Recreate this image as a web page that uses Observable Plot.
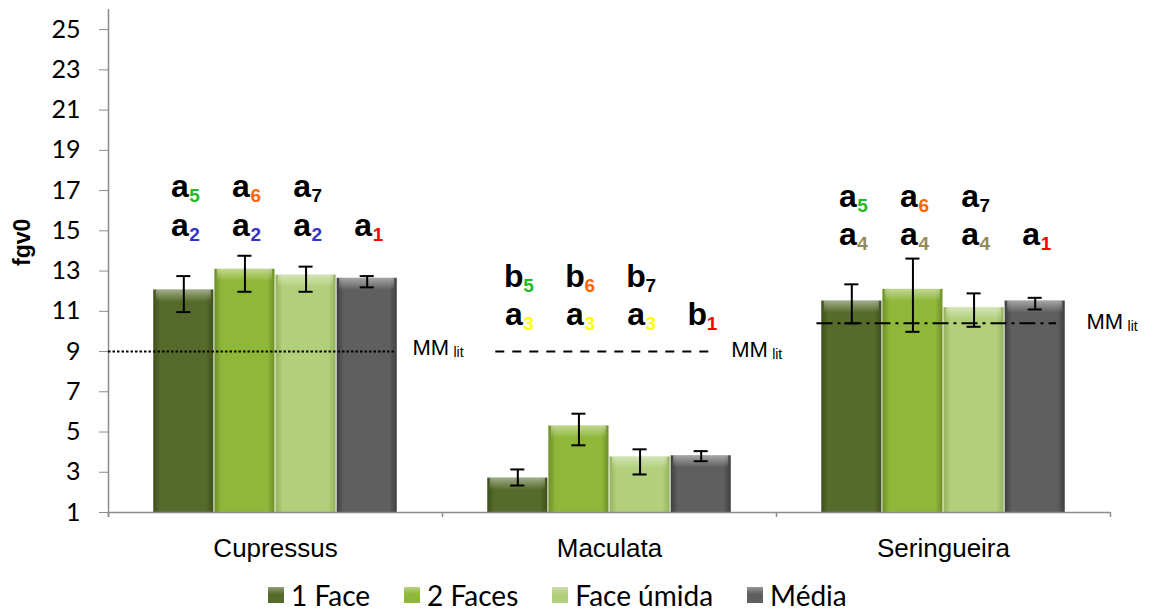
<!DOCTYPE html>
<html><head><meta charset="utf-8">
<script src="https://cdn.jsdelivr.net/npm/d3@7"></script>
<script src="https://cdn.jsdelivr.net/npm/@observablehq/plot@0.6"></script>
<style>
body{margin:0;background:#fff;}
#chart svg{display:block;overflow:visible;}
#chart g[aria-label="bar"]{filter:drop-shadow(3px 2px 2px rgba(0,0,0,0.45));}
#legend{display:flex;align-items:center;height:33px;padding-left:268px;font-family:Lato,"Open Sans",sans-serif;font-size:28px;color:#000;}
#legend .item{display:flex;align-items:center;margin-right:34px;}
#legend .sw{width:16px;height:16px;margin-right:7px;}
</style></head><body>
<svg width="0" height="0" style="position:absolute">
<defs>
<linearGradient id="grad0" x1="0" x2="1" y1="0" y2="0"><stop offset="0" stop-color="#3f4f1c"/><stop offset="0.12" stop-color="#566b2b"/><stop offset="0.88" stop-color="#566b2b"/><stop offset="1" stop-color="#3f4f1c"/></linearGradient>
<linearGradient id="grad1" x1="0" x2="1" y1="0" y2="0"><stop offset="0" stop-color="#6d8f28"/><stop offset="0.12" stop-color="#8fb83a"/><stop offset="0.88" stop-color="#8fb83a"/><stop offset="1" stop-color="#6d8f28"/></linearGradient>
<linearGradient id="grad2" x1="0" x2="1" y1="0" y2="0"><stop offset="0" stop-color="#93b35a"/><stop offset="0.12" stop-color="#b2cf7c"/><stop offset="0.88" stop-color="#b2cf7c"/><stop offset="1" stop-color="#93b35a"/></linearGradient>
<linearGradient id="grad3" x1="0" x2="1" y1="0" y2="0"><stop offset="0" stop-color="#3e3e3e"/><stop offset="0.12" stop-color="#5f5f5f"/><stop offset="0.88" stop-color="#5f5f5f"/><stop offset="1" stop-color="#3e3e3e"/></linearGradient>
<linearGradient id="bevel" x1="0" x2="0" y1="0" y2="1"><stop offset="0" stop-color="#fff" stop-opacity="0.45"/><stop offset="1" stop-color="#fff" stop-opacity="0"/></linearGradient>
</defs></svg>
<div id="chart"></div>
<div id="legend"></div>
<script>
const categories = ["Cupressus", "Maculata", "Seringueira"];
const series = ["1 Face", "2 Faces", "Face úmida", "Média"];

const cupressusMean = [12.06, 13.09, 12.80, 12.64];
const cupressusLow  = [10.96, 11.97, 11.97, 12.19];
const cupressusHigh = [12.75, 13.76, 13.22, 12.75];

const maculataMean = [2.71, 5.30, 3.76, 3.82];
const maculataLow  = [2.34, 4.34, 2.89, 3.55];
const maculataHigh = [3.14, 5.91, 4.14, 4.05];

const seringueiraMean = [11.51, 12.09, 11.18, 11.51];
const seringueiraLow  = [10.40, 9.98, 10.23, 11.09];
const seringueiraHigh = [12.34, 13.62, 11.89, 11.67];

const cupressusTop = ["a5", "a6", "a7", ""];
const cupressusBottom = ["a2", "a2", "a2", "a1"];
const maculataTop = ["b5", "b6", "b7", ""];
const maculataBottom = ["a3", "a3", "a3", "b1"];
const seringueiraTop = ["a5", "a6", "a7", ""];
const seringueiraBottom = ["a4", "a4", "a4", "a1"];

const mmLevels = [9, 9, 10.41];
const yTicks = [1, 3, 5, 7, 9, 11, 13, 15, 17, 19, 21, 23, 25];

// ---- layout / style config ----
const letterLevels = [[16.69, 14.75], [12.2, 10.31], [16.2, 14.3]];
const mmExtent = [[-0.732, 3.97], [0.14, 3.73], [-0.07, 3.85]];
const mmLabel = [[4.24, 8.82], [3.99, 8.72], [4.34, 10.11]];
const mmDash = ["2.5,2", "9,8", "16,5,3,5"];
const barColors = ["url(#grad0)", "url(#grad1)", "url(#grad2)", "url(#grad3)"];
const legendColors = ["#566b2b", "#8fb83a", "#b2cf7c", "#5f5f5f"];
const subColors = {"1": "#ff0000", "2": "#3333cc", "3": "#ffff00", "4": "#948a54", "5": "#22bb22", "6": "#ff6600", "7": "#000000"};

const means = [cupressusMean, maculataMean, seringueiraMean];
const lows = [cupressusLow, maculataLow, seringueiraLow];
const highs = [cupressusHigh, maculataHigh, seringueiraHigh];
const tops = [cupressusTop, maculataTop, seringueiraTop];
const bottoms = [cupressusBottom, maculataBottom, seringueiraBottom];

const rows = [];
categories.forEach((cat, ci) => series.forEach((s, si) => rows.push({cat, series: s, i: si, mean: means[ci][si], lo: lows[ci][si], hi: highs[ci][si]})));

const letters = [];
categories.forEach((cat, ci) => {
  [tops[ci], bottoms[ci]].forEach((arr, r) => arr.forEach((s, si) => {
    if (s) letters.push({cat, i: si, y: letterLevels[ci][r], letter: s[0], sub: s.slice(1)});
  }));
});

const mm = categories.map((cat, ci) => ({cat, level: mmLevels[ci], x1: mmExtent[ci][0], x2: mmExtent[ci][1], lx: mmLabel[ci][0], ly: mmLabel[ci][1], dash: mmDash[ci]}));
const catTicks = categories.map(cat => ({cat, x: -0.732})).concat([{cat: categories[2], x: 4.732}]);
const yLabels = yTicks.map(v => ({cat: categories[0], v}));

const arial = "Liberation Sans, Arial, sans-serif";
const calib = "Lato, 'Open Sans', sans-serif";
const capW = 0.115;

const marks = [];
series.forEach((s, si) => {
  const d = rows.filter(r => r.i === si);
  marks.push(Plot.rect(d, {fx: "cat", x1: r => r.i, x2: r => r.i + 1, y1: () => 1, y2: "mean", fill: barColors[si], insetLeft: 0.5, insetRight: 0.5, ariaLabel: "bar"}));
  marks.push(Plot.rect(d, {fx: "cat", x1: r => r.i, x2: r => r.i + 1, y1: "mean", y2: r => r.mean - 0.6, fill: "url(#bevel)", insetLeft: 3, insetRight: 3}));
});
marks.push(
  Plot.ruleY([1], {stroke: "#8c8c8c", strokeWidth: 1.5}),
  Plot.ruleX(catTicks, {fx: "cat", x: "x", y1: () => 1, y2: () => 0.75, stroke: "#8c8c8c", strokeWidth: 1.5}),
  Plot.ruleX([{cat: categories[0]}], {fx: "cat", x: () => -0.732, y1: () => 0.75, y2: () => 26, stroke: "#8c8c8c", strokeWidth: 1.5}),
  Plot.ruleX(rows, {fx: "cat", x: r => r.i + 0.5, y1: "lo", y2: "hi", stroke: "#000", strokeWidth: 2}),
  Plot.ruleY(rows, {fx: "cat", y: "lo", x1: r => r.i + 0.5 - capW, x2: r => r.i + 0.5 + capW, stroke: "#000", strokeWidth: 2}),
  Plot.ruleY(rows, {fx: "cat", y: "hi", x1: r => r.i + 0.5 - capW, x2: r => r.i + 0.5 + capW, stroke: "#000", strokeWidth: 2})
);
mm.forEach(m => marks.push(Plot.ruleY([m], {fx: "cat", y: "level", x1: "x1", x2: "x2", stroke: "#000", strokeWidth: 2, strokeDasharray: m.dash})));
marks.push(
  Plot.text(mm, {fx: "cat", x: "lx", y: "ly", text: () => "MM", textAnchor: "start", lineAnchor: "bottom", fontSize: 22, fontFamily: arial, fill: "#000"}),
  Plot.text(mm, {fx: "cat", x: "lx", y: "ly", text: () => "lit", textAnchor: "start", lineAnchor: "bottom", dx: 41, dy: 2, fontSize: 14, fontFamily: arial, fill: "#000"}),
  Plot.text(letters, {fx: "cat", x: d => d.i + 0.5, y: "y", text: "letter", textAnchor: "middle", lineAnchor: "bottom", dx: -4, fontSize: 32, fontWeight: "bold", fontFamily: arial, fill: "#000"}),
  Plot.text(letters, {fx: "cat", x: d => d.i + 0.5, y: "y", text: "sub", textAnchor: "start", lineAnchor: "bottom", dx: 5.5, dy: 5, fontSize: 19, fontWeight: "bold", fontFamily: arial, fill: d => subColors[d.sub]}),
  Plot.text([{cat: categories[0]}], {fx: "cat", frameAnchor: "left", y: () => 13.25, text: () => "fgv0", rotate: -90, dx: -86, fontSize: 23, fontWeight: "bold", fontFamily: "'Liberation Sans Narrow', 'Liberation Sans', Arial, sans-serif", fill: "#000"}),
  Plot.axisY(yTicks, {tickSize: 9, stroke: "#8c8c8c", fill: "none", label: null}),
  Plot.text(yLabels, {fx: "cat", y: "v", text: d => String(d.v), frameAnchor: "left", dx: -28, textAnchor: "end", lineAnchor: "middle", fontSize: 25, fontFamily: calib, fill: "#000"}),
  Plot.axisFx({anchor: "bottom", tickSize: 0, tickPadding: 26, fontSize: 26, fontFamily: arial, fill: "#000", label: null})
);

const chart = Plot.plot({
  width: 1155,
  height: 578,
  marginLeft: 107,
  marginRight: 44,
  marginTop: 9,
  marginBottom: 66,
  style: {background: "#fff", overflow: "visible"},
  fx: {domain: categories, padding: 0, label: null},
  x: {domain: [-0.732, 4.732], axis: null},
  y: {domain: [1, 26], axis: null},
  marks
});
document.getElementById("chart").appendChild(chart);

const legend = document.getElementById("legend");
series.forEach((s, si) => {
  const item = document.createElement("div");
  item.className = "item";
  const sw = document.createElement("span");
  sw.className = "sw";
  sw.style.background = `linear-gradient(to bottom, rgba(255,255,255,0.35), rgba(255,255,255,0) 45%), ${legendColors[si]}`;
  const t = document.createElement("span");
  t.textContent = s;
  item.appendChild(sw); item.appendChild(t);
  legend.appendChild(item);
});
</script>
</body></html>
